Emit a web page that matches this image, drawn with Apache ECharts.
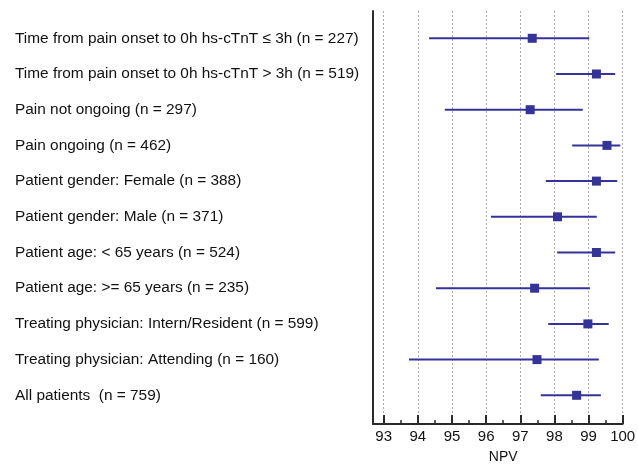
<!DOCTYPE html>
<html><head><meta charset="utf-8">
<script src="https://cdn.jsdelivr.net/npm/echarts@6/dist/echarts.min.js"></script>
<style>html,body{margin:0;padding:0;background:#fff}#c{width:638px;height:466px}</style>
</head><body><div id="c"></div>
<script>
const categories = [
  'Time from pain onset to 0h hs-cTnT \u2264 3h (n = 227)',
  'Time from pain onset to 0h hs-cTnT > 3h (n = 519)',
  'Pain not ongoing (n = 297)',
  'Pain ongoing (n = 462)',
  'Patient gender: Female (n = 388)',
  'Patient gender: Male (n = 371)',
  'Patient age: < 65 years (n = 524)',
  'Patient age: >= 65 years (n = 235)',
  'Treating physician: Intern/Resident (n = 599)',
  'Treating physician: Attending (n = 160)',
  'All patients  (n = 759)'
];
const npv   = [97.35, 99.23, 97.29, 99.54, 99.23, 98.09, 99.23, 97.42, 98.98, 97.49, 98.65];
const ciLow = [94.33, 98.05, 94.79, 98.52, 97.75, 96.14, 98.08, 94.53, 97.82, 93.74, 97.60];
const ciHigh= [99.02, 99.78, 98.83, 99.93, 99.84, 99.24, 99.78, 99.04, 99.59, 99.30, 99.36];
const xTicks = [93, 94, 95, 96, 97, 98, 99, 100];

const chart = echarts.init(document.getElementById('c'), null, {renderer: 'canvas'});
const font = 'Arial, "Liberation Sans", sans-serif';
const dark = '#2b2b2b';
const blue = '#333399';

chart.setOption({
  animation: false,
  backgroundColor: '#fff',
  grid: [
    {left: 373, right: 15.3, top: 11, bottom: 42, outerBoundsMode: 'none', containLabel: false},
    {left: 383.7, right: 15.3, top: 11, bottom: 42, outerBoundsMode: 'none', containLabel: false},
    {left: 383.7, right: 15.3, top: 20.45, height: 392.7, outerBoundsMode: 'none', containLabel: false}
  ],
  xAxis: [
    {gridIndex: 0, type: 'value', min: 92.68, max: 100,
     axisLine: {show: true, onZero: false, lineStyle: {color: dark, width: 2}},
     axisTick: {show: false}, axisLabel: {show: false}, splitLine: {show: false}},
    {gridIndex: 1, type: 'value', min: xTicks[0], max: xTicks[xTicks.length-1], interval: 1,
     name: 'NPV', nameLocation: 'middle', nameGap: 26,
     nameTextStyle: {fontFamily: font, fontSize: 14, color: '#111'},
     axisLine: {show: false},
     axisTick: {show: true, inside: true, length: 9, lineStyle: {color: dark, width: 2}},
     minorTick: {show: true, splitNumber: 2, length: 4, lineStyle: {color: dark, width: 1.5}},
     axisLabel: {show: true, margin: 5, fontFamily: font, fontSize: 15, color: '#111'},
     splitLine: {show: true, lineStyle: {color: '#aaa', width: 1, type: [2, 2]}}},
    {gridIndex: 2, type: 'value', min: 93, max: 100, show: false}
  ],
  yAxis: [
    {gridIndex: 0, type: 'value', min: 0, max: 1,
     axisLine: {show: true, onZero: false, lineStyle: {color: dark, width: 2}},
     axisTick: {show: false}, axisLabel: {show: false}, splitLine: {show: false}},
    {gridIndex: 1, type: 'value', show: false},
    {gridIndex: 2, type: 'category', data: categories, inverse: true,
     axisLine: {show: false}, axisTick: {show: false}, splitLine: {show: false},
     axisLabel: {show: true, align: 'left', margin: 368.7, fontFamily: font, fontSize: 15.4, color: '#111'}}
  ],
  series: [
    {type: 'custom', xAxisIndex: 2, yAxisIndex: 2,
     data: categories.map((c, i) => [i, ciLow[i], ciHigh[i]]),
     encode: {x: [1, 2], y: 0},
     renderItem: function (params, api) {
       const lo = api.coord([api.value(1), api.value(0)]);
       const hi = api.coord([api.value(2), api.value(0)]);
       return {type: 'line', shape: {x1: lo[0], y1: lo[1], x2: hi[0], y2: hi[1]},
               style: {stroke: blue, lineWidth: 2}};
     }, z: 3},
    {type: 'scatter', xAxisIndex: 2, yAxisIndex: 2,
     data: categories.map((c, i) => [npv[i], i]),
     symbol: 'rect', symbolSize: 9, itemStyle: {color: blue, opacity: 1}, z: 4}
  ]
});
</script></body></html>
